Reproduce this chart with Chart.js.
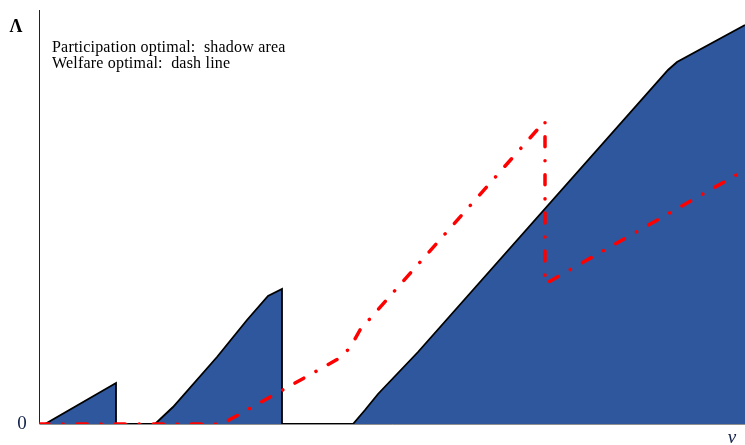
<!DOCTYPE html>
<html>
<head>
<meta charset="utf-8">
<script src="https://cdn.jsdelivr.net/npm/chart.js@4/dist/chart.umd.min.js"></script>
<style>
  html, body { margin: 0; padding: 0; background: #fff; }
  #wrap { width: 745px; height: 445px; position: relative; }
</style>
</head>
<body>
<div id="wrap"><canvas id="c"></canvas></div>
<script>
// Participation-optimal region: upper boundary (v, Λ), filled down to Λ = 0
const participationV = [0, 6, 77, 77, 116, 134, 178, 208, 229, 243, 243, 314, 326, 339, 379, 629, 638, 706];
const participationL = [0, 0, 41, 0, 0, 17, 67, 104, 128, 135, 0, 0, 14, 30, 72, 354, 362, 399];

// Welfare-optimal schedule (dash-dot line)
const welfareV = [0, 183, 299, 311, 321, 506, 506, 706];
const welfareL = [0, 0, 65, 76, 94, 303, 140, 254];

// Axis ranges and labels
const vRange = [0, 706];
const lambdaRange = [0, 414];
const axisLabels = { y: 'Λ', x: 'v', origin: '0' };
const noteLines = ['Participation optimal:  shadow area', 'Welfare optimal:  dash line'];

const toPoints = (xs, ys) => xs.map((x, i) => ({ x, y: ys[i] }));

const serif = "'Liberation Serif', 'DejaVu Serif', serif";

const axesAndText = {
  id: 'axesAndText',
  beforeDatasetsDraw(chart) {
    const { ctx, chartArea: a } = chart;
    const x0 = chart.scales.x.getPixelForValue(0);
    const y0 = chart.scales.y.getPixelForValue(0);
    ctx.save();
    ctx.strokeStyle = '#222';
    ctx.lineWidth = 1;
    ctx.beginPath();
    ctx.moveTo(x0 + 0.5, a.top);
    ctx.lineTo(x0 + 0.5, y0);
    ctx.lineTo(a.right, y0);
    ctx.stroke();
    ctx.restore();
  },
  afterDraw(chart) {
    const { ctx } = chart;
    const x0 = chart.scales.x.getPixelForValue(0);
    const y0 = chart.scales.y.getPixelForValue(0);
    ctx.save();
    ctx.fillStyle = '#000';
    ctx.textBaseline = 'alphabetic';
    ctx.textAlign = 'left';
    ctx.font = '16px ' + serif;
    ctx.letterSpacing = '0.2px';
    ctx.fillText(noteLines[0], x0 + 13, 52);
    ctx.fillText(noteLines[1], x0 + 13, 68);
    ctx.letterSpacing = '0px';

    ctx.textAlign = 'center';
    ctx.textBaseline = 'middle';
    ctx.font = 'bold 18px ' + serif;
    ctx.fillText(axisLabels.y, 16, 27);
    ctx.fillStyle = '#10204a';
    ctx.font = '19px ' + serif;
    ctx.fillText(axisLabels.origin, 22, y0);
    ctx.font = 'italic 19px ' + serif;
    ctx.fillText(axisLabels.x, 732, 438);
    ctx.restore();
  }
};

new Chart(document.getElementById('c'), {
  type: 'line',
  data: {
    datasets: [
      {
        label: 'Welfare optimal',
        data: toPoints(welfareV, welfareL),
        borderColor: '#ff0000',
        borderWidth: 3.5,
        borderDash: [10, 14, 0.1, 14],
        borderCapStyle: 'round',
        fill: false,
        pointRadius: 0,
        tension: 0,
        order: 0
      },
      {
        label: 'Participation optimal',
        data: toPoints(participationV, participationL),
        borderColor: '#000000',
        borderWidth: 1.8,
        backgroundColor: '#2e579e',
        fill: 'origin',
        pointRadius: 0,
        tension: 0,
        order: 1
      }
    ]
  },
  options: {
    responsive: true,
    maintainAspectRatio: false,
    animation: false,
    events: [],
    layout: { padding: { left: 39, top: 10, right: 0, bottom: 21 } },
    plugins: { legend: { display: false }, tooltip: { enabled: false } },
    scales: {
      x: { type: 'linear', min: vRange[0], max: vRange[1], display: false },
      y: { type: 'linear', min: lambdaRange[0], max: lambdaRange[1], display: false }
    }
  },
  plugins: [axesAndText]
});
</script>
</body>
</html>
